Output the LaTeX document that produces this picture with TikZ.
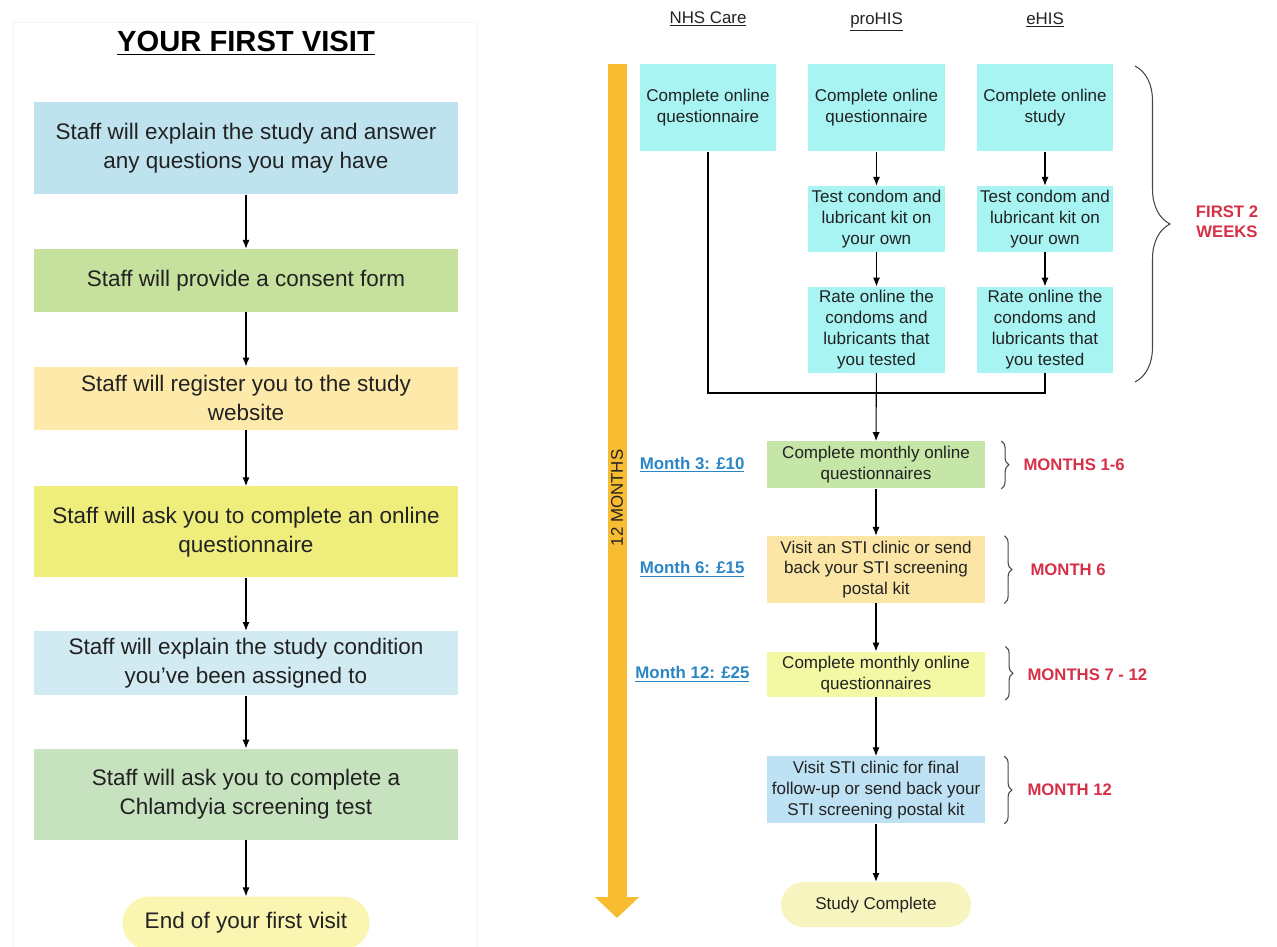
\documentclass[tikz,border=0pt]{standalone}
\usepackage{fontspec}
\setmainfont{Liberation Sans}
\usetikzlibrary{arrows.meta, positioning, decorations.pathreplacing}

\definecolor{txt}{RGB}{34,34,34}
\definecolor{leftblue}{RGB}{190,227,239}
\definecolor{leftgreen}{RGB}{198,224,158}
\definecolor{leftpeach}{RGB}{253,233,170}
\definecolor{leftyellow}{RGB}{239,237,124}
\definecolor{leftpale}{RGB}{210,235,243}
\definecolor{leftsage}{RGB}{199,226,190}
\definecolor{endyellow}{RGB}{250,245,176}
\definecolor{armcyan}{RGB}{167,244,243}
\definecolor{stgreen}{RGB}{197,230,166}
\definecolor{stpeach}{RGB}{252,230,166}
\definecolor{styellow}{RGB}{243,248,164}
\definecolor{stblue}{RGB}{190,226,244}
\definecolor{stdone}{RGB}{248,244,192}
\definecolor{timeorange}{RGB}{248,188,51}
\definecolor{periodred}{RGB}{214,48,72}
\definecolor{payblue}{RGB}{42,134,196}
\definecolor{bracegray}{RGB}{70,70,70}
\definecolor{framegray}{RGB}{245,245,245}

\begin{document}
\begin{tikzpicture}[
  node distance = 1.08cm,
  visit/.style   = {minimum width=8.48cm, inner sep=1pt, align=center,
                    font=\fontsize{12.8}{16.4}\selectfont, text=txt},
  arm/.style     = {minimum width=2.73cm, inner sep=1pt, align=center, fill=armcyan,
                    font=\fontsize{9.7}{11.9}\selectfont, text=txt},
  stage/.style   = {minimum width=4.36cm, inner sep=1pt, align=center,
                    font=\fontsize{9.7}{11.9}\selectfont, text=txt},
  arr/.style     = {-{Latex[length=5pt,width=4pt]}, line width=0.6pt},
  link/.style    = {line width=0.6pt},
  brc/.style     = {decorate, decoration={brace, amplitude=#1}, draw=bracegray, line width=0.6pt},
  brc/.default   = 0.15cm,
  period/.style  = {font=\fontsize{9.5}{11.4}\selectfont\bfseries, text=periodred, align=center},
  pay/.style     = {font=\fontsize{9.6}{11.6}\selectfont\bfseries, text=payblue},
  head/.style    = {font=\fontsize{9.6}{11.6}\selectfont, text=txt},
]
  \useasboundingbox (0,0) rectangle (25.54,-18.94);

  % left panel: first visit
  \draw[framegray] (0.26,-18.94) -- (0.26,-0.44) -- (9.54,-0.44) -- (9.54,-18.94);
  \node[font=\fontsize{16.6}{20}\selectfont\bfseries, text=black] (title) at (4.92,-0.86) {\underline{YOUR FIRST VISIT}};

  \node[visit, fill=leftblue, minimum height=1.84cm, anchor=north] (v1) at (4.92,-2.04)
       {Staff will explain the study and answer\\any questions you may have};
  \node[visit, fill=leftgreen, minimum height=1.26cm, below=of v1] (v2) {Staff will provide a consent form};
  \node[visit, fill=leftpeach, minimum height=1.26cm, below=of v2] (v3) {Staff will register you to the study\\website};
  \node[visit, fill=leftyellow, minimum height=1.82cm, below=1.12cm of v3] (v4)
       {Staff will ask you to complete an online\\questionnaire};
  \node[visit, fill=leftpale, minimum height=1.28cm, below=1.06cm of v4] (v5)
       {Staff will explain the study condition\\you've been assigned to};
  \node[visit, fill=leftsage, minimum height=1.82cm, below=1.06cm of v5] (v6)
       {Staff will ask you to complete a\\Chlamdyia screening test};
  \node[visit, fill=endyellow, minimum width=4.94cm, minimum height=1.06cm, rounded corners=0.53cm,
        below=1.12cm of v6] (vend) {End of your first visit};

  \draw[arr] (v1) -- (v2);
  \draw[arr] (v2) -- (v3);
  \draw[arr] (v3) -- (v4);
  \draw[arr] (v4) -- (v5);
  \draw[arr] (v5) -- (v6);
  \draw[arr] (v6) -- (vend);

  % right panel: timeline
  \coordinate (tltop) at (12.34,-1.28);
  \coordinate (tlend) at (12.34,-18.36);
  \draw[timeorange, line width=0.38cm, -{Triangle[length=0.42cm,width=0.86cm]}] (tltop) -- (tlend);
  \node[rotate=90, font=\fontsize{9.6}{11.6}\selectfont, text=txt] (twelve) at (12.34,-9.96) {12 MONTHS};

  % study arms
  \node[head] (hnhs) at (14.16,-0.38) {\underline{NHS Care}};
  \node[head] (hpro) at (17.53,-0.44) {\underline{proHIS}};
  \node[head] (heh)  at (20.90,-0.40) {\underline{eHIS}};

  \node[arm, minimum height=1.74cm, anchor=north] (nhs)  at (14.16,-1.28) {Complete online\\questionnaire};
  \node[arm, minimum height=1.74cm, anchor=north] (pro1) at (17.53,-1.28) {Complete online\\questionnaire};
  \node[arm, minimum height=1.74cm, anchor=north] (eh1)  at (20.90,-1.28) {Complete online\\study};
  \node[arm, minimum height=1.32cm, below=0.68cm of pro1] (pro2) {Test condom and\\lubricant kit on\\your own};
  \node[arm, minimum height=1.32cm, below=0.68cm of eh1]  (eh2)  {Test condom and\\lubricant kit on\\your own};
  \node[arm, minimum height=1.72cm, below=0.68cm of pro2] (pro3)
       {Rate online the\\condoms and\\lubricants that\\you tested};
  \node[arm, minimum height=1.72cm, below=0.68cm of eh2]  (eh3)
       {Rate online the\\condoms and\\lubricants that\\you tested};

  \draw[arr] (pro1) -- (pro2);
  \draw[arr] (pro2) -- (pro3);
  \draw[arr] (eh1) -- (eh2);
  \draw[arr] (eh2) -- (eh3);

  % follow-up stages
  \node[stage, fill=stgreen, minimum height=0.94cm, anchor=north] (s1) at (17.52,-8.82)
       {Complete monthly online\\questionnaires};
  \node[stage, fill=stpeach, minimum height=1.34cm, below=0.94cm of s1] (s2)
       {Visit an STI clinic or send\\back your STI screening\\postal kit};
  \node[stage, fill=styellow, minimum height=0.90cm, below=0.96cm of s2] (s3)
       {Complete monthly online\\questionnaires};
  \node[stage, fill=stblue, minimum height=1.34cm, below=1.18cm of s3] (s4)
       {Visit STI clinic for final\\follow-up or send back your\\STI screening postal kit};
  \node[stage, fill=stdone, minimum width=3.8cm, minimum height=0.9cm, rounded corners=0.45cm,
        below=1.16cm of s4] (done) {Study Complete};

  \coordinate (mergeL) at (nhs.south |- 0,-7.86);
  \coordinate (mergeR) at (eh3.south |- 0,-7.86);
  \draw[link] (nhs.south) -- (mergeL) -- (mergeR) -- (eh3.south);
  \draw[arr] (pro3) -- (s1);
  \draw[arr] (s1) -- (s2);
  \draw[arr] (s2) -- (s3);
  \draw[arr] (s3) -- (s4);
  \draw[arr] (s4) -- (done);

  % periods and payments
  \draw[brc=0.7cm] (22.70,-1.32) -- (22.70,-7.64);
  \node[period] (wk) at (24.54,-4.44) {FIRST 2\\WEEKS};

  \draw[brc] ([xshift=0.32cm]s1.north east) -- ([xshift=0.32cm]s1.south east);
  \draw[brc] ([xshift=0.38cm]s2.north east) -- ([xshift=0.38cm]s2.south east);
  \draw[brc] ([xshift=0.40cm,yshift=0.1cm]s3.north east) -- ([xshift=0.40cm,yshift=-0.06cm]s3.south east);
  \draw[brc] ([xshift=0.38cm]s4.north east) -- ([xshift=0.38cm]s4.south east);

  \node[period, right=0.64cm of s1] (p1) {MONTHS 1-6};
  \node[period, right=0.78cm of s2] (p2) {MONTH 6};
  \node[period, right=0.72cm of s3] (p3) {MONTHS 7 - 12};
  \node[period, right=0.72cm of s4] (p4) {MONTH 12};

  \node[pay, left=0.32cm of s1] (m3)  {\underline{Month 3: £10}};
  \node[pay, left=0.32cm of s2] (m6)  {\underline{Month 6: £15}};
  \node[pay, left=0.22cm of s3] (m12) {\underline{Month 12: £25}};
\end{tikzpicture}
\end{document}
